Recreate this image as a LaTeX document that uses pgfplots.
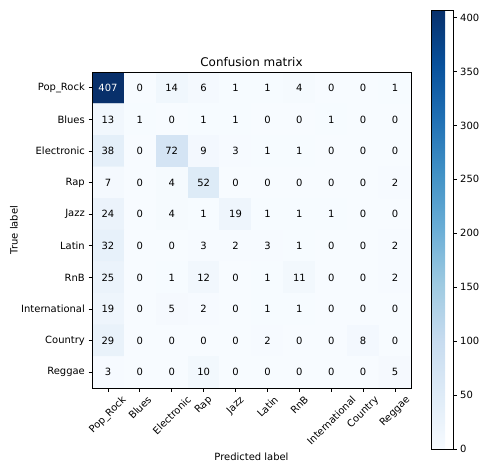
\documentclass[border=0pt]{standalone}
\usepackage{pgfplots}
\pgfplotsset{compat=1.18}
\usepackage{pgfplotstable}
\usepackage{graphicx}
\usepackage{fontspec}
\setmainfont{DejaVu Sans}
\pgfplotstableread{
x y C
0 0 407
1 0 0
2 0 14
3 0 6
4 0 1
5 0 1
6 0 4
7 0 0
8 0 0
9 0 1
0 1 13
1 1 1
2 1 0
3 1 1
4 1 1
5 1 0
6 1 0
7 1 1
8 1 0
9 1 0
0 2 38
1 2 0
2 2 72
3 2 9
4 2 3
5 2 1
6 2 1
7 2 0
8 2 0
9 2 0
0 3 7
1 3 0
2 3 4
3 3 52
4 3 0
5 3 0
6 3 0
7 3 0
8 3 0
9 3 2
0 4 24
1 4 0
2 4 4
3 4 1
4 4 19
5 4 1
6 4 1
7 4 1
8 4 0
9 4 0
0 5 32
1 5 0
2 5 0
3 5 3
4 5 2
5 5 3
6 5 1
7 5 0
8 5 0
9 5 2
0 6 25
1 6 0
2 6 1
3 6 12
4 6 0
5 6 1
6 6 11
7 6 0
8 6 0
9 6 2
0 7 19
1 7 0
2 7 5
3 7 2
4 7 0
5 7 1
6 7 1
7 7 0
8 7 0
9 7 0
0 8 29
1 8 0
2 8 0
3 8 0
4 8 0
5 8 2
6 8 0
7 8 0
8 8 8
9 8 0
0 9 3
1 9 0
2 9 0
3 9 10
4 9 0
5 9 0
6 9 0
7 9 0
8 9 0
9 9 5
}\cm
\begin{document}
\begin{tikzpicture}
\path[use as bounding box] (0,0) rectangle (485bp,469bp);
\begin{axis}[
  at={(92bp,81bp)}, anchor=south west,
  scale only axis, width=319bp, height=316bp,
  xmin=-0.5, xmax=9.5, ymin=-0.5, ymax=9.5,
  y dir=reverse, enlargelimits=false, axis on top,
  colormap={blues}{rgb255=(247,251,255) rgb255=(222,235,247) rgb255=(198,219,239) rgb255=(158,202,225) rgb255=(107,174,214) rgb255=(66,146,198) rgb255=(33,113,181) rgb255=(8,81,156) rgb255=(8,48,107)},
  point meta min=0, point meta max=407,
  xtick={0,...,9}, ytick={0,...,9},
  xticklabels={\rotatebox{45}{Pop\_Rock},\rotatebox{45}{Blues},\rotatebox{45}{Electronic},\rotatebox{45}{Rap},\rotatebox{45}{Jazz},\rotatebox{45}{Latin},\rotatebox{45}{RnB},\rotatebox{45}{International},\rotatebox{45}{Country},\rotatebox{45}{Reggae}},
  yticklabels={Pop\_Rock,Blues,Electronic,Rap,Jazz,Latin,RnB,International,Country,Reggae},
  xticklabel style={anchor=north, font=\fontsize{10}{12}\selectfont, inner sep=0pt, yshift=-3.5bp},
  yticklabel style={anchor=east, font=\fontsize{10}{12}\selectfont, inner sep=0pt, xshift=-3.5bp},
  tick align=outside, major tick length=3.5bp,
  tick style={black, line width=0.8bp},
  xtick pos=bottom, ytick pos=left,
  axis line style={black, line width=0.8bp},
  title={Confusion matrix},
  title style={at={(axis description cs:0.5,1)}, anchor=base, inner sep=0pt, yshift=0bp, font=\fontsize{12}{14}\selectfont},
  xlabel={Predicted label},
  xlabel style={at={(axis description cs:0.5,-0.218)}, anchor=center, font=\fontsize{10}{12}\selectfont},
  ylabel={True label},
  ylabel style={at={(axis description cs:-0.2445,0.5)}, anchor=center, rotate=0, font=\fontsize{10}{12}\selectfont},
  colorbar,
  colorbar style={
    at={(1.0627,-0.193)}, anchor=south west,
    scale only axis, width=22bp, height=439bp,
    ymin=0, ymax=407,
    ytick={0,50,...,400},
    ytick pos=right, yticklabel pos=right,
    tick align=outside, major tick length=3.5bp,
    tick style={black, line width=0.8bp},
    axis line style={black, line width=0.8bp},
    yticklabel style={font=\fontsize{10}{12}\selectfont, inner sep=0pt, xshift=3.5bp, anchor=west},
    /pgf/number format/assume math mode=true,
  },
]
\addplot[matrix plot*, mesh/cols=10, point meta=explicit, draw=none] table[x=x, y=y, meta=C] {\cm};
\addplot[only marks, mark=*, mark size=0pt, mark options={draw=none, fill=none},
  point meta=explicit symbolic,
  nodes near coords={\ifnum\pgfplotspointmeta>203 \color{white}\fi\pgfplotspointmeta},
  nodes near coords align=center,
  every node near coord/.append style={anchor=center, font=\fontsize{10}{12}\selectfont},
] table[x=x, y=y, meta=C] {\cm};
\end{axis}
\end{tikzpicture}
\end{document}
